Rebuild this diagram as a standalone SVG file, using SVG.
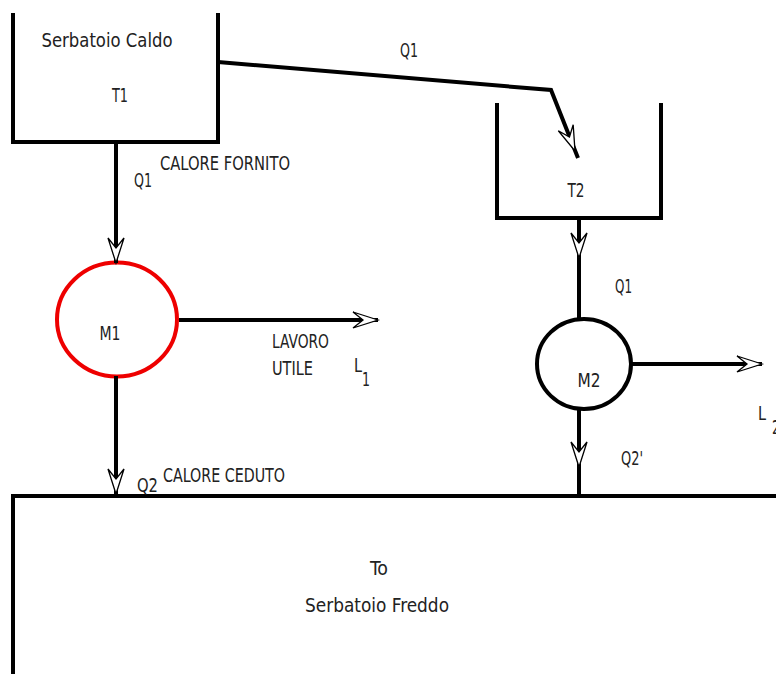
<svg xmlns="http://www.w3.org/2000/svg" xmlns:xlink="http://www.w3.org/1999/xlink" width="776" height="674" viewBox="0 0 776 674">
<style>
  .ln { fill: none; stroke: #000; stroke-width: 4; stroke-linecap: butt; stroke-linejoin: miter; }
  .ah { fill: #fff; stroke: #000; stroke-width: 1.3; stroke-linejoin: miter; }
  text { font-family: "Liberation Sans Narrow", "DejaVu Sans Condensed", "Liberation Sans", sans-serif; font-stretch: condensed; font-size: 20px; fill: #222; }
  .c { text-anchor: middle; }
  .s { font-size: 19px; }
</style>
<defs>
  <path id="ah" class="ah" d="M0,0 L-25,-8 L-15,0 L-25,8 Z"/>
</defs>
<rect width="776" height="674" fill="#fff"/>

<g id="tank-hot">
  <path class="ln" d="M13,13 V142 H218 V13"/>
  <text class="c" x="107" y="47" textLength="131" lengthAdjust="spacingAndGlyphs">Serbatoio Caldo</text>
  <text class="c" x="120" y="102" textLength="16" lengthAdjust="spacingAndGlyphs">T1</text>
</g>

<g id="tank-t2">
  <path class="ln" d="M497,103 V218 H661 V103"/>
  <text class="c" x="576" y="197" textLength="17" lengthAdjust="spacingAndGlyphs">T2</text>
</g>

<g id="m1">
  <ellipse cx="117" cy="319.5" rx="60" ry="57" fill="none" stroke="#ee0000" stroke-width="4"/>
  <text class="c" x="110" y="340" textLength="21" lengthAdjust="spacingAndGlyphs">M1</text>
</g>

<g id="m2">
  <ellipse cx="584" cy="364" rx="47" ry="45" fill="none" stroke="#000" stroke-width="4"/>
  <text class="c" x="589" y="387" textLength="23" lengthAdjust="spacingAndGlyphs">M2</text>
</g>

<g id="tank-cold">
  <path class="ln" d="M13,674 V496 H776"/>
  <text class="c" x="379" y="575" textLength="18" lengthAdjust="spacingAndGlyphs">To</text>
  <text class="c" x="377" y="612" textLength="144" lengthAdjust="spacingAndGlyphs">Serbatoio Freddo</text>
</g>

<g id="connectors">
  <path class="ln" d="M218,62 L551,90 L578,158"/>
  <path class="ln" d="M116,142 V263"/>
  <path class="ln" d="M179,320 H378"/>
  <path class="ln" d="M116,376 V496"/>
  <path class="ln" d="M579,218 V319"/>
  <path class="ln" d="M631,364 H762"/>
  <path class="ln" d="M579,409 V496"/>
  <use xlink:href="#ah" transform="translate(575,151) rotate(68.3)"/>
  <use xlink:href="#ah" transform="translate(116,263) rotate(90)"/>
  <use xlink:href="#ah" transform="translate(378,320)"/>
  <use xlink:href="#ah" transform="translate(116,494) rotate(90)"/>
  <use xlink:href="#ah" transform="translate(579,258) rotate(90)"/>
  <use xlink:href="#ah" transform="translate(762,364)"/>
  <use xlink:href="#ah" transform="translate(579,467) rotate(90)"/>
</g>

<g id="labels">
  <text class="c" x="409" y="57" textLength="18" lengthAdjust="spacingAndGlyphs">Q1</text>
  <text x="134" y="187" textLength="18" lengthAdjust="spacingAndGlyphs">Q1</text>
  <text class="s" x="160" y="170" textLength="130" lengthAdjust="spacingAndGlyphs">CALORE FORNITO</text>
  <text class="s" x="272" y="348" textLength="57" lengthAdjust="spacingAndGlyphs">LAVORO</text>
  <text class="s" x="272" y="375" textLength="41" lengthAdjust="spacingAndGlyphs">UTILE</text>
  <text x="354" y="372" textLength="8" lengthAdjust="spacingAndGlyphs">L</text>
  <text x="362" y="386" textLength="8" lengthAdjust="spacingAndGlyphs">1</text>
  <text x="137" y="492" textLength="21" lengthAdjust="spacingAndGlyphs">Q2</text>
  <text class="s" x="163" y="482" textLength="122" lengthAdjust="spacingAndGlyphs">CALORE CEDUTO</text>
  <text x="615" y="293" textLength="17" lengthAdjust="spacingAndGlyphs">Q1</text>
  <text x="621" y="465" textLength="22" lengthAdjust="spacingAndGlyphs">Q2'</text>
  <text x="758" y="420" textLength="8" lengthAdjust="spacingAndGlyphs">L</text>
  <text x="772" y="434" textLength="8" lengthAdjust="spacingAndGlyphs">2</text>
</g>
</svg>
